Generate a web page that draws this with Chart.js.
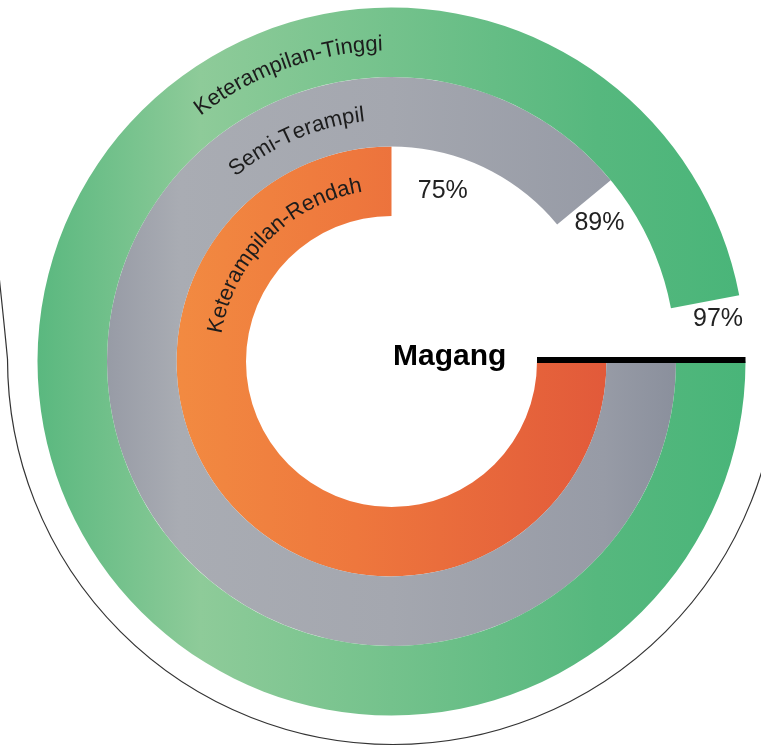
<!DOCTYPE html>
<html>
<head>
<meta charset="utf-8">
<script src="https://cdn.jsdelivr.net/npm/chart.js@4/dist/chart.umd.min.js"></script>
<style>
  body { margin: 0; background: #fff; }
  canvas { display: block; }
</style>
</head>
<body>
<canvas id="radialChart" width="761" height="746"></canvas>
<script>

// DATA ########################################################################

var ringLabels = ["Keterampilan-Tinggi", "Semi-Terampil", "Keterampilan-Rendah"];
var ringValues = [97, 89, 75];
var centerTitle = "Magang";

// STYLE #######################################################################

var FONT = "'Liberation Sans', Arial, Helvetica, sans-serif";
var ringStops = [
    [[0, "#5ab87f"], [0.23, "#8ecb99"], [0.5, "#74c28c"], [0.79, "#56b87e"], [1, "#49b579"]],
    [[0, "#868b99"], [0.2, "#a9acb3"], [0.5, "#a4a7af"], [0.8, "#979ba6"], [0.96, "#838997"]],
    [[0, "#ee7837"], [0.2, "#f28a41"], [0.45, "#ee773d"], [0.8, "#e25a3a"], [1, "#e0553a"]]
];
// curved label centre angle (deg from 12 o'clock, clockwise)
var nameAngle = [-19.8, -23.5, -45.2];
// percent label shift past the arc end (px along arc, px outward)
var pctShift = [20, 26, 52];
var pctLift = [10, 0, -2];

function ringColor(context) {
    if (context.dataIndex === 1) {
        return "rgba(0,0,0,0)";
    }
    var stops = ringStops[context.datasetIndex];
    var chart = context.chart;
    var area = chart.chartArea;
    if (!area) {
        return stops[0][1];
    }
    var g = chart.ctx.createLinearGradient(area.left, 0, area.right, 0);
    stops.forEach(function (s) {
        g.addColorStop(s[0], s[1]);
    });
    return g;
}

function drawArcText(ctx, text, cx, cy, r, centerAngle) {
    var total = ctx.measureText(text).width;
    var a = centerAngle - total / 2 / r;
    for (var i = 0; i < text.length; i++) {
        var ch = text[i];
        var w = ctx.measureText(ch).width;
        var mid = a + w / 2 / r;
        ctx.save();
        ctx.translate(cx + r * Math.sin(mid), cy - r * Math.cos(mid));
        ctx.rotate(mid);
        ctx.fillText(ch, 0, 0);
        ctx.restore();
        a += w / r;
    }
}

// DECORATION PLUGIN ###########################################################

var decorations = {
    id: "decorations",
    beforeDatasetsDraw: function (chart) {
        var ctx = chart.ctx;
        var arc = chart.getDatasetMeta(0).data[0];
        var cx = arc.x, cy = arc.y;
        // thin outline around the rings
        ctx.save();
        ctx.strokeStyle = "#333";
        ctx.lineWidth = 1.2;
        ctx.beginPath();
        ctx.arc(cx + 1.5, cy - 2.5, 385.5, 0, Math.PI, false);
        ctx.quadraticCurveTo(4, cy - 40, -2, cy - 95);
        ctx.stroke();
        ctx.restore();
    },
    afterDatasetsDraw: function (chart) {
        var ctx = chart.ctx;
        var outer = chart.getDatasetMeta(0).data[0];
        var inner = chart.getDatasetMeta(ringValues.length - 1).data[0];
        var cx = outer.x, cy = outer.y;

        ctx.save();
        ctx.fillStyle = "#1c1c1c";
        ctx.font = "22px " + FONT;
        ctx.textAlign = "center";
        ctx.textBaseline = "alphabetic";
        ringLabels.forEach(function (label, i) {
            var el = chart.getDatasetMeta(i).data[0];
            var mid = (el.innerRadius + el.outerRadius) / 2;
            drawArcText(ctx, label, cx, cy, mid - 8, nameAngle[i] * Math.PI / 180);
        });

        // percent labels past the end of each arc
        ctx.font = "25px " + FONT;
        ctx.fillStyle = "#222";
        ctx.textBaseline = "middle";
        ringValues.forEach(function (v, i) {
            var el = chart.getDatasetMeta(i).data[0];
            var r = (el.innerRadius + el.outerRadius) / 2 + pctLift[i];
            var a = el.endAngle + pctShift[i] / r;
            ctx.fillText(v + "%", cx + r * Math.cos(a), cy + r * Math.sin(a));
        });

        // black start line at 3 o'clock
        ctx.strokeStyle = "#000";
        ctx.lineWidth = 6;
        ctx.beginPath();
        ctx.moveTo(cx + inner.innerRadius, cy - 1.5);
        ctx.lineTo(cx + outer.outerRadius, cy - 1.5);
        ctx.stroke();

        ctx.font = "bold 30px " + FONT;
        ctx.fillStyle = "#000";
        ctx.textAlign = "left";
        ctx.textBaseline = "alphabetic";
        ctx.fillText(centerTitle, cx + 1.5, cy + 3);
        ctx.restore();
    }
};

// RADIAL CHART ################################################################

var datasets = ringValues.map(function (v, i) {
    return {
        label: ringLabels[i],
        data: [v, 100 - v],
        backgroundColor: ringColor,
        borderWidth: 0,
        hoverOffset: 0,
        offset: 0
    };
});

var myRadialChart = new Chart(document.getElementById("radialChart"), {
    type: "doughnut",
    data: {
        labels: ["value", "rest"],
        datasets: datasets
    },
    options: {
        responsive: false,
        animation: false,
        rotation: 90,
        cutout: 145.5,
        spacing: 0,
        layout: {
            padding: { left: 37.5, right: 15.5, top: 7.5, bottom: 30.5 }
        },
        plugins: {
            legend: { display: false },
            tooltip: { enabled: false }
        },
        events: []
    },
    plugins: [decorations]
});
</script>
</body>
</html>
